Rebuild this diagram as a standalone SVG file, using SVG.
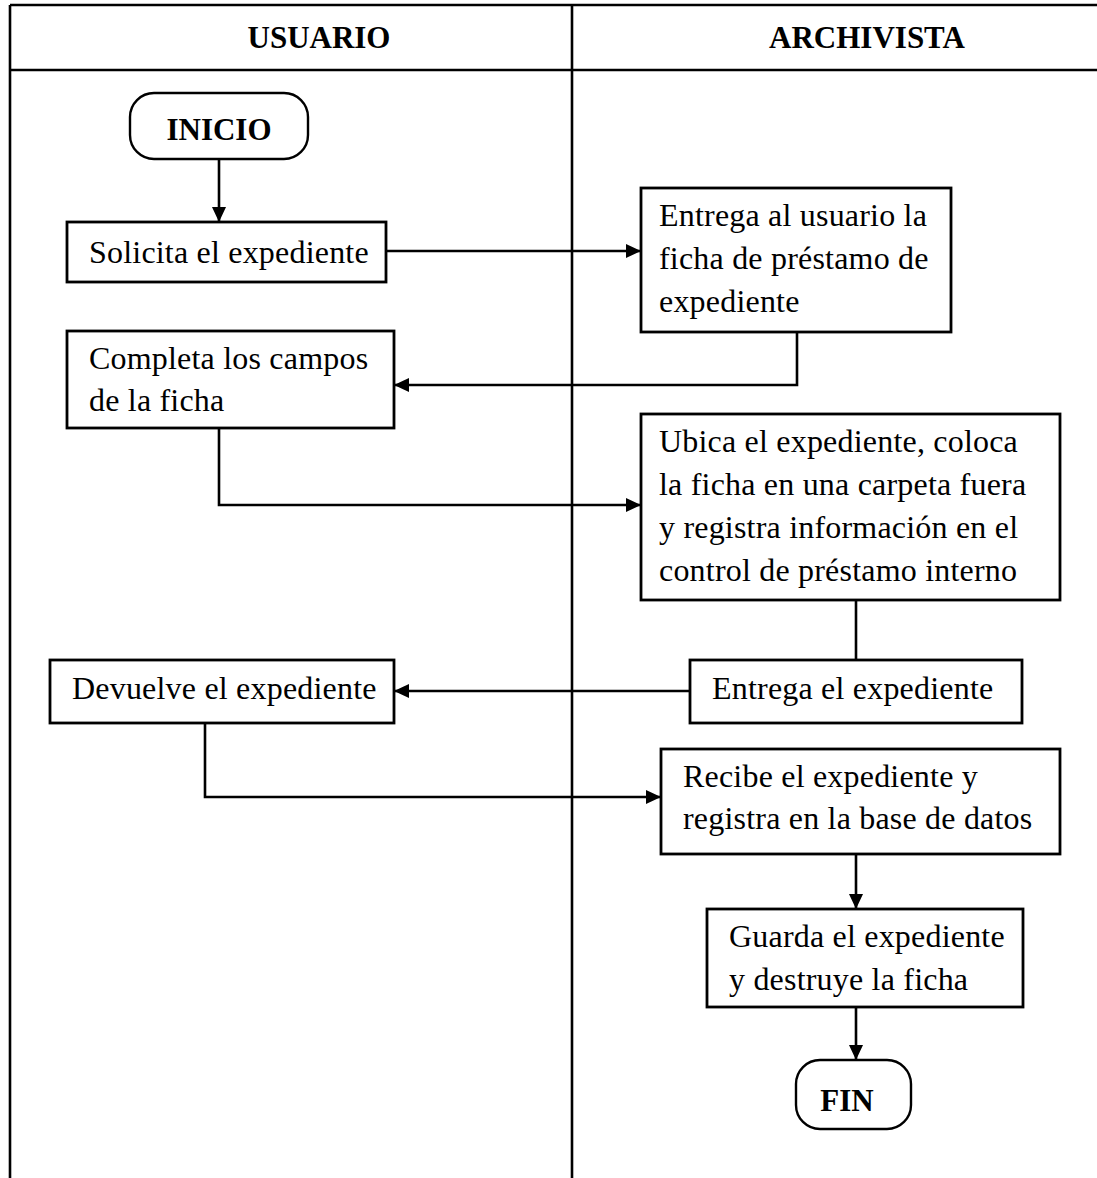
<svg xmlns="http://www.w3.org/2000/svg" width="1097" height="1178" viewBox="0 0 1097 1178">
  <style>
    .lane { stroke: #000; stroke-width: 2.6; fill: none; }
    .box { fill: #fff; stroke: #000; stroke-width: 2.8; }
    .term { fill: #fff; stroke: #000; stroke-width: 2.4; }
    .conn { stroke: #000; stroke-width: 2.6; fill: none; }
    .txt { font-family: "Liberation Serif", "Times New Roman", serif; font-size: 32px; letter-spacing: 0.2px; fill: #000; }
    .hdr { font-family: "Liberation Serif", "Times New Roman", serif; font-size: 31px; font-weight: bold; fill: #000; text-anchor: middle; }
  </style>
  <defs>
    <marker id="arrow" markerWidth="15" markerHeight="14" refX="15" refY="7" orient="auto" markerUnits="userSpaceOnUse">
      <path d="M0,0 L15,7 L0,14 Z" fill="#000"/>
    </marker>
  </defs>
  <rect width="1097" height="1178" fill="#fff"/>

  <!-- swimlane table -->
  <g id="lanes">
    <line class="lane" x1="10" y1="5" x2="1097" y2="5"/>
    <line class="lane" x1="10" y1="70" x2="1097" y2="70"/>
    <line class="lane" x1="10" y1="5" x2="10" y2="1178"/>
    <line class="lane" x1="572" y1="5" x2="572" y2="1178"/>
    <text class="hdr" x="319" y="48">USUARIO</text>
    <text class="hdr" x="867" y="48">ARCHIVISTA</text>
  </g>

  <!-- connectors -->
  <g id="connectors">
    <path class="conn" d="M219,159 V222" marker-end="url(#arrow)"/>
    <path class="conn" d="M386,251 H641" marker-end="url(#arrow)"/>
    <path class="conn" d="M797,332 V385 H394" marker-end="url(#arrow)"/>
    <path class="conn" d="M219,428 V505 H641" marker-end="url(#arrow)"/>
    <path class="conn" d="M856,600 V660"/>
    <path class="conn" d="M690,691 H394" marker-end="url(#arrow)"/>
    <path class="conn" d="M205,723 V797 H661" marker-end="url(#arrow)"/>
    <path class="conn" d="M856,854 V909" marker-end="url(#arrow)"/>
    <path class="conn" d="M856,1007 V1060" marker-end="url(#arrow)"/>
  </g>

  <g id="inicio">
    <rect class="term" x="130" y="93" width="178" height="66" rx="24" ry="24"/>
    <text class="hdr" x="219" y="140">INICIO</text>
  </g>

  <g id="solicita">
    <rect class="box" x="67" y="222" width="319" height="60"/>
    <text class="txt" x="89" y="263">Solicita el expediente</text>
  </g>

  <g id="entrega-ficha">
    <rect class="box" x="641" y="188" width="310" height="144"/>
    <text class="txt" x="659" y="226">Entrega al usuario la</text>
    <text class="txt" x="659" y="269">ficha de préstamo de</text>
    <text class="txt" x="659" y="312">expediente</text>
  </g>

  <g id="completa">
    <rect class="box" x="67" y="331" width="327" height="97"/>
    <text class="txt" x="89" y="369">Completa los campos</text>
    <text class="txt" x="89" y="411">de la ficha</text>
  </g>

  <g id="ubica">
    <rect class="box" x="641" y="414" width="419" height="186"/>
    <text class="txt" x="659" y="452">Ubica el expediente, coloca</text>
    <text class="txt" x="659" y="495">la ficha en una carpeta fuera</text>
    <text class="txt" x="659" y="538">y registra información en el</text>
    <text class="txt" x="659" y="581">control de préstamo interno</text>
  </g>

  <g id="entrega-expediente">
    <rect class="box" x="690" y="660" width="332" height="63"/>
    <text class="txt" x="712" y="699">Entrega el expediente</text>
  </g>

  <g id="devuelve">
    <rect class="box" x="50" y="660" width="344" height="63"/>
    <text class="txt" x="72" y="699">Devuelve el expediente</text>
  </g>

  <g id="recibe">
    <rect class="box" x="661" y="749" width="399" height="105"/>
    <text class="txt" x="683" y="787">Recibe el expediente y</text>
    <text class="txt" x="683" y="829">registra en la base de datos</text>
  </g>

  <g id="guarda">
    <rect class="box" x="707" y="909" width="316" height="98"/>
    <text class="txt" x="729" y="947">Guarda el expediente</text>
    <text class="txt" x="729" y="990">y destruye la ficha</text>
  </g>

  <g id="fin">
    <rect class="term" x="796" y="1060" width="115" height="69" rx="24" ry="24"/>
    <text class="hdr" x="847" y="1111">FIN</text>
  </g>
</svg>
